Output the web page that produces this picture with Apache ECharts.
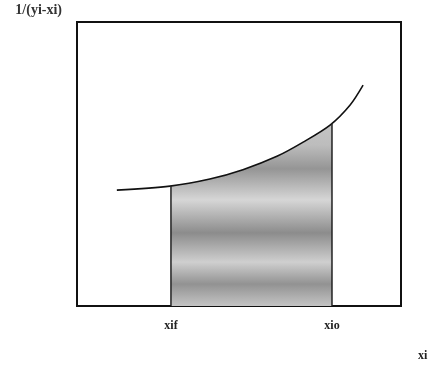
<!DOCTYPE html>
<html><head><meta charset="utf-8">
<script src="https://cdn.jsdelivr.net/npm/echarts@6/dist/echarts.min.js"></script>
<style>html,body{margin:0;padding:0;background:#fff}#c{width:436px;height:365px}</style>
</head><body><div id="c"></div>
<script>
// curve 1/(yi-xi) vs xi (arbitrary units)
const curveX = [1.23, 2.87, 4.10, 5.12, 6.17, 6.98, 7.81, 8.43, 8.83];
const curveY = [4.08, 4.22, 4.47, 4.80, 5.27, 5.77, 6.37, 7.08, 7.78];
// integration limits
const xif = 2.9;
const xio = 7.87;
const limitLabels = ['xif', 'xio'];
const xName = 'xi';
const yName = '1/(yi-xi)';

function interpY(x){
  for(let i=0;i<curveX.length-1;i++){
    if(x>=curveX[i] && x<=curveX[i+1]){
      const t=(x-curveX[i])/(curveX[i+1]-curveX[i]);
      return curveY[i]+t*(curveY[i+1]-curveY[i]);
    }
  }
  return curveY[curveY.length-1];
}
const curve = curveX.map((x,i)=>[x,curveY[i]]);
const shaded = [[xif, interpY(xif)]].concat(curve.filter(p=>p[0]>xif && p[0]<xio)).concat([[xio, interpY(xio)]]);

const font = '"Liberation Serif", "DejaVu Serif", serif';
const chart = echarts.init(document.getElementById('c'));
chart.setOption({
  animation:false,
  grid:{left:77,right:35,top:22,bottom:59,show:true,borderColor:'#111',borderWidth:2,backgroundColor:'transparent'},
  xAxis:{type:'value',min:0,max:10,
    name:xName,nameLocation:'end',nameGap:17,
    nameTextStyle:{fontFamily:font,fontWeight:'bold',fontSize:12,color:'#222',verticalAlign:'top',padding:[44,0,0,0]},
    axisLine:{show:false},axisTick:{show:false},splitLine:{show:false},
    axisLabel:{customValues:[xif,xio],margin:14,fontFamily:font,fontWeight:'bold',fontSize:12,color:'#222',
      formatter:v=>Math.abs(v-xif)<1e-6?limitLabels[0]:limitLabels[1]}},
  yAxis:{type:'value',min:0,max:10,
    name:yName,nameLocation:'end',nameGap:5,
    nameTextStyle:{fontFamily:font,fontWeight:'bold',fontSize:14,color:'#333',align:'right',padding:[0,15,0,0]},
    axisLine:{show:false},axisTick:{show:false},splitLine:{show:false},axisLabel:{show:false}},
  series:[
    {type:'line',data:shaded,smooth:0.3,symbol:'none',lineStyle:{width:0},
      areaStyle:{opacity:1,color:{type:'linear',x:0,y:0,x2:0,y2:1,colorStops:[
        {offset:0,color:'#c4c4c4'},{offset:0.12,color:'#bdbdbd'},{offset:0.25,color:'#959595'},
        {offset:0.42,color:'#d6d6d6'},{offset:0.6,color:'#8c8c8c'},{offset:0.76,color:'#cfcfcf'},
        {offset:0.88,color:'#929292'},{offset:1,color:'#c4c4c4'}]}}},
    {type:'line',data:curve,smooth:0.3,symbol:'none',lineStyle:{color:'#111',width:1.6}},
    {type:'line',data:[[xif,0],[xif,interpY(xif)]],symbol:'none',lineStyle:{color:'#222',width:1.5}},
    {type:'line',data:[[xio,0],[xio,interpY(xio)]],symbol:'none',lineStyle:{color:'#222',width:1.5}}
  ]
});
</script></body></html>
